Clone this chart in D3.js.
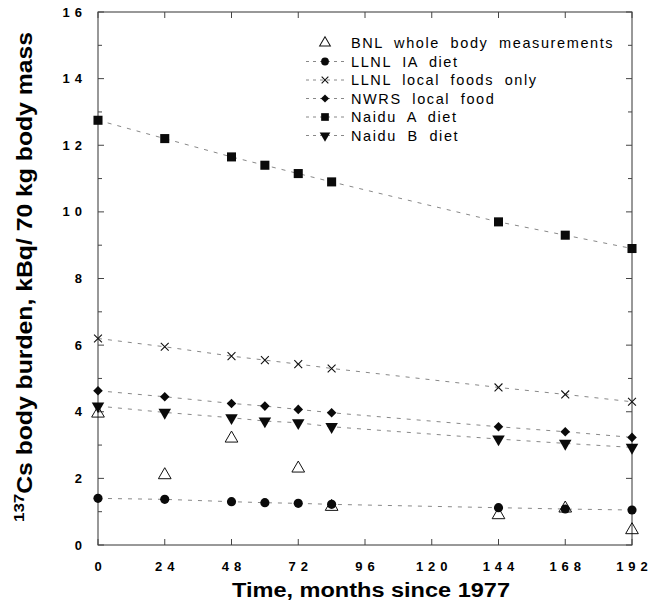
<!DOCTYPE html>
<html>
<head>
<meta charset="utf-8">
<script src="https://cdn.jsdelivr.net/npm/d3@7"></script>
<style>
  html, body { margin: 0; padding: 0; background: #fff; }
  svg { display: block; font-family: "Liberation Sans", Arial, Helvetica, sans-serif; }
</style>
</head>
<body>
<svg id="chart" width="653" height="616"></svg>
<script>
// Sampling times (months since 1977)
const months = [0, 24, 48, 60, 72, 84, 144, 168, 192];

// 137Cs body burden, kBq per 70 kg body mass
const bnlWholeBody   = [3.95, 2.1, 3.2, null, 2.3, 1.15, 0.9, 1.1, 0.45];
const bnlMonths      = [0, 24, 48, 60, 72, 84, 144, 168, 192];
const llnlIADiet     = [1.4, 1.37, 1.3, 1.27, 1.25, 1.22, 1.12, 1.08, 1.05];
const llnlLocalFoods = [6.2, 5.95, 5.67, 5.55, 5.43, 5.3, 4.73, 4.52, 4.3];
const nwrsLocalFood  = [4.63, 4.45, 4.25, 4.17, 4.07, 3.97, 3.55, 3.4, 3.23];
const naiduADiet     = [12.75, 12.2, 11.65, 11.4, 11.15, 10.9, 9.7, 9.3, 8.9];
const naiduBDiet     = [4.17, 3.98, 3.82, 3.72, 3.67, 3.55, 3.18, 3.05, 2.93];

const xTicks = [0, 24, 48, 72, 96, 120, 144, 168, 192];
const yTicks = [0, 2, 4, 6, 8, 10, 12, 14, 16];

const seriesNames = [
  "BNL whole body measurements",
  "LLNL IA diet",
  "LLNL local foods only",
  "NWRS local food",
  "Naidu A diet",
  "Naidu B diet"
];

const svg = d3.select("#chart");
const plotLeft = 98, plotRight = 632, plotTop = 12, plotBottom = 545;

const x = d3.scaleLinear().domain([0, 192]).range([plotLeft, plotRight]);
const y = d3.scaleLinear().domain([0, 16]).range([plotBottom, plotTop]);

// Marker shapes (the diamond is a square turned by 45 degrees)
const sym = {
  triUp:   d3.symbol().type(d3.symbolTriangle).size(70),
  circle:  d3.symbol().type(d3.symbolCircle).size(66),
  cross:   d3.symbol().type(d3.symbolX).size(42),
  diamond: d3.symbol().type(d3.symbolSquare).size(46),
  square:  d3.symbol().type(d3.symbolSquare).size(82),
  triDown: d3.symbol().type(d3.symbolTriangle).size(68)
};
const rot = { triDown: 180, diamond: 45 };

const series = [
  { name: seriesNames[0], vals: bnlWholeBody, t: bnlMonths, shape: "triUp", open: true, line: false },
  { name: seriesNames[1], vals: llnlIADiet, t: months, shape: "circle", line: true },
  { name: seriesNames[2], vals: llnlLocalFoods, t: months, shape: "cross", stroke: true, line: true },
  { name: seriesNames[3], vals: nwrsLocalFood, t: months, shape: "diamond", line: true },
  { name: seriesNames[4], vals: naiduADiet, t: months, shape: "square", line: true },
  { name: seriesNames[5], vals: naiduBDiet, t: months, shape: "triDown", line: true }
];

function drawMarker(g, s, cx, cy, scale = 1) {
  const p = g.append("path")
    .attr("d", sym[s.shape]())
    .attr("transform", `translate(${cx},${cy}) scale(${scale})` + (rot[s.shape] ? ` rotate(${rot[s.shape]})` : ""));
  if (s.open) {
    p.attr("fill", "none").attr("stroke", "#111").attr("stroke-width", 1 / scale);
  } else if (s.stroke) {
    p.attr("fill", "none").attr("stroke", "#111").attr("stroke-width", 1.1 / scale);
  } else {
    p.attr("fill", "#0a0a0a");
  }
}

// Frame
const frame = svg.append("g").attr("stroke", "#333").attr("stroke-width", 1).attr("fill", "none");
frame.append("rect").attr("x", plotLeft).attr("y", plotTop)
  .attr("width", plotRight - plotLeft).attr("height", plotBottom - plotTop);

// Tick marks, pointing inwards on all four sides
const tickG = svg.append("g").attr("stroke", "#444").attr("stroke-width", 1);
xTicks.forEach(t => {
  tickG.append("line").attr("x1", x(t)).attr("x2", x(t)).attr("y1", plotBottom).attr("y2", plotBottom - 6);
  tickG.append("line").attr("x1", x(t)).attr("x2", x(t)).attr("y1", plotTop).attr("y2", plotTop + 6);
});
d3.range(0, 17).forEach(v => {
  const len = v % 2 === 0 ? 6 : 4;
  tickG.append("line").attr("x1", plotLeft).attr("x2", plotLeft + len).attr("y1", y(v)).attr("y2", y(v));
  tickG.append("line").attr("x1", plotRight).attr("x2", plotRight - len).attr("y1", y(v)).attr("y2", y(v));
});

// Tick labels: bold with spaced digits
const lsp = 5;
svg.append("g").selectAll("text").data(xTicks).join("text")
  .attr("x", d => x(d) + lsp / 2)
  .attr("y", 571)
  .attr("text-anchor", "middle")
  .attr("font-size", 13)
  .attr("font-weight", "bold")
  .attr("letter-spacing", lsp)
  .text(d => d);

svg.append("g").selectAll("text").data(yTicks).join("text")
  .attr("x", 82 + lsp)
  .attr("y", d => y(d) + 4.5)
  .attr("text-anchor", "end")
  .attr("font-size", 13)
  .attr("font-weight", "bold")
  .attr("letter-spacing", lsp)
  .text(d => d);

// Fitted trend lines
const line = d3.line().x(d => x(d[0])).y(d => y(d[1]));
series.filter(s => s.line).forEach(s => {
  const pts = s.t.map((t, i) => [t, s.vals[i]]).filter(d => d[1] != null);
  svg.append("path")
    .attr("d", line(pts))
    .attr("fill", "none")
    .attr("stroke", "#888")
    .attr("stroke-width", 1)
    .attr("stroke-dasharray", "4,6");
});

// Data markers
const markG = svg.append("g");
series.forEach(s => {
  s.t.forEach((t, i) => {
    if (s.vals[i] == null) return;
    drawMarker(markG, s, x(t), y(s.vals[i]));
  });
});

// Legend
const leg = svg.append("g");
const legX = 325, legY0 = 43, legDy = 18.5;
series.forEach((s, i) => {
  const ly = legY0 + i * legDy;
  if (s.line) {
    leg.append("line").attr("x1", 306).attr("x2", 344).attr("y1", ly).attr("y2", ly)
      .attr("stroke", "#888").attr("stroke-width", 1).attr("stroke-dasharray", "3,4");
  }
  drawMarker(leg, s, legX, ly, 0.85);
  leg.append("text")
    .attr("x", 351).attr("y", ly + 5)
    .attr("font-size", 14.5)
    .attr("letter-spacing", 1.6)
    .attr("word-spacing", 5)
    .text(s.name);
});

// Axis titles
svg.append("text")
  .attr("x", 371).attr("y", 597)
  .attr("text-anchor", "middle")
  .attr("font-size", 20)
  .attr("font-weight", "bold")
  .attr("textLength", 278)
  .attr("lengthAdjust", "spacingAndGlyphs")
  .text("Time, months since 1977");

const yt = svg.append("text")
  .attr("transform", "translate(32,277) rotate(-90)")
  .attr("text-anchor", "middle")
  .attr("font-size", 22)
  .attr("font-weight", "bold")
  .attr("textLength", 490)
  .attr("lengthAdjust", "spacingAndGlyphs");
yt.append("tspan").attr("font-size", 15).attr("dy", -8).text("137");
yt.append("tspan").attr("dy", 8).text("Cs body burden, kBq/ 70 kg body mass");
</script>
</body>
</html>
